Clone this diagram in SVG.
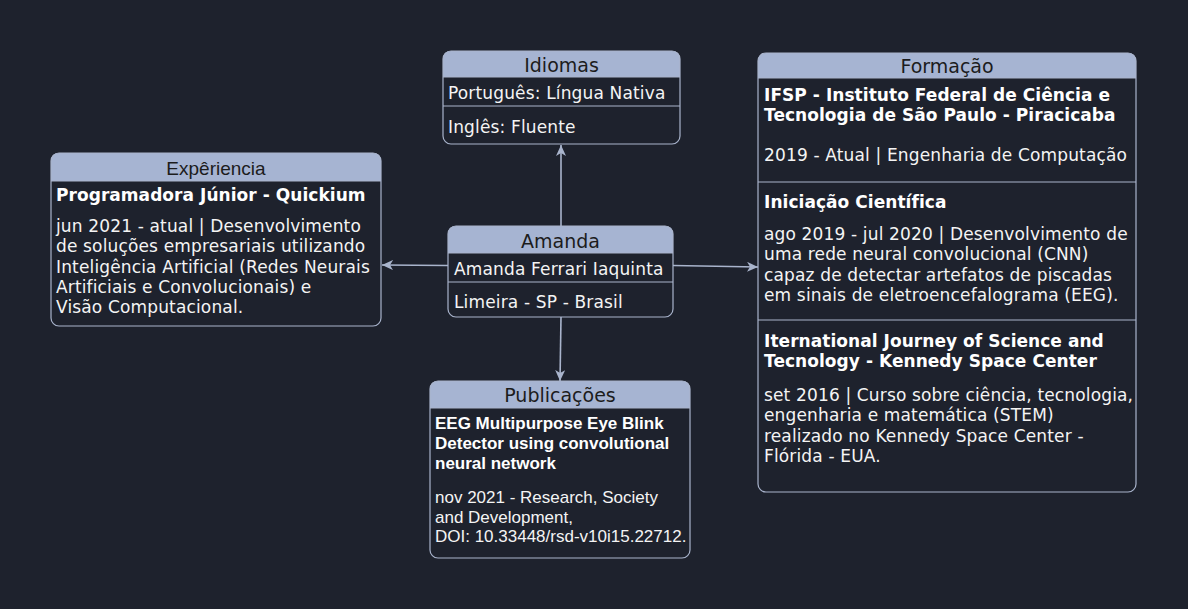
<svg xmlns="http://www.w3.org/2000/svg" width="1188" height="609" viewBox="0 0 1188 609">
<defs>
<style>
.hd{fill:#a6b4d2;stroke:none}
.bx{fill:none;stroke:#a9b4cc;stroke-width:1.2}
.dv{stroke:#a9b4cc;stroke-width:1.2}
.tt{font-family:"DejaVu Sans",Verdana,sans-serif;font-size:19px;fill:#1c1c1c;text-anchor:middle}
.tta{font-family:"Liberation Sans",Arial,sans-serif;font-size:19px;fill:#1c1c1c;text-anchor:middle}
.b{font-family:"DejaVu Sans",Verdana,sans-serif;font-size:17px;letter-spacing:0.15px;fill:#f4f4f4}
.bb{font-family:"DejaVu Sans",Verdana,sans-serif;font-size:17px;letter-spacing:0.05px;font-weight:bold;fill:#ffffff}
.a{font-family:"Liberation Sans",Arial,sans-serif;font-size:17px;fill:#f4f4f4}
.ab{font-family:"Liberation Sans",Arial,sans-serif;font-size:17px;font-weight:bold;fill:#ffffff}
.cn{stroke:#a9b4cc;stroke-width:1.6;fill:none;marker-end:url(#arr)}
</style>
<marker id="arr" markerUnits="userSpaceOnUse" markerWidth="14" markerHeight="12" refX="11" refY="5" orient="auto">
<path d="M0,0 L11,5 L0,10 L3,5 Z" fill="#a9b4cc"/>
</marker>
</defs>
<rect width="1188" height="609" fill="#1e222d"/>

<g id="connectors">
<line class="cn" x1="561" y1="226" x2="561" y2="145"/>
<line class="cn" x1="448" y1="265.5" x2="382" y2="265"/>
<line class="cn" x1="673" y1="265.5" x2="758" y2="267"/>
<line class="cn" x1="561" y1="317" x2="560" y2="381"/>
</g>

<g id="idiomas">
<path class="hd" d="M443,77 V59 Q443,51 451,51 H672 Q680,51 680,59 V77 Z"/>
<rect class="bx" x="443" y="51" width="237" height="93" rx="8"/>
<line class="dv" x1="443" y1="77" x2="680" y2="77"/>
<line class="dv" x1="443" y1="106" x2="680" y2="106"/>
<text class="tt" x="561.5" y="72">Idiomas</text>
<text class="b" x="448" y="99">Português: Língua Nativa</text>
<text class="b" x="448" y="133">Inglês: Fluente</text>
</g>

<g id="experiencia">
<path class="hd" d="M51,181 V161 Q51,153 59,153 H373 Q381,153 381,161 V181 Z"/>
<rect class="bx" x="51" y="153" width="330" height="173" rx="8"/>
<line class="dv" x1="51" y1="181" x2="381" y2="181"/>
<text class="tta" x="216" y="175">Expêriencia</text>
<text class="bb" x="56" y="201">Programadora Júnior - Quickium</text>
<text class="b" x="56" y="232">jun 2021 - atual | Desenvolvimento</text>
<text class="b" x="56" y="252.3">de soluções empresariais utilizando</text>
<text class="b" x="56" y="272.6">Inteligência Artificial (Redes Neurais</text>
<text class="b" x="56" y="292.9">Artificiais e Convolucionais) e</text>
<text class="b" x="56" y="313.2">Visão Computacional.</text>
</g>

<g id="amanda">
<path class="hd" d="M448,253 V234 Q448,226 456,226 H665 Q673,226 673,234 V253 Z"/>
<rect class="bx" x="448" y="226" width="225" height="91" rx="8"/>
<line class="dv" x1="448" y1="253" x2="673" y2="253"/>
<line class="dv" x1="448" y1="282" x2="673" y2="282"/>
<text class="tt" x="560.5" y="248">Amanda</text>
<text class="b" x="454" y="275">Amanda Ferrari Iaquinta</text>
<text class="b" x="454" y="308">Limeira - SP - Brasil</text>
</g>

<g id="publicacoes">
<path class="hd" d="M430,408 V389 Q430,381 438,381 H682 Q690,381 690,389 V408 Z"/>
<rect class="bx" x="430" y="381" width="260" height="177" rx="8"/>
<line class="dv" x1="430" y1="408" x2="690" y2="408"/>
<text class="tt" x="560" y="402">Publicações</text>
<text class="ab" x="435" y="429">EEG Multipurpose Eye Blink</text>
<text class="ab" x="435" y="449">Detector using convolutional</text>
<text class="ab" x="435" y="469">neural network</text>
<text class="a" x="435" y="503">nov 2021 - Research, Society</text>
<text class="a" x="435" y="522.5">and Development,</text>
<text class="a" x="435" y="542">DOI: 10.33448/rsd-v10i15.22712.</text>
</g>

<g id="formacao">
<path class="hd" d="M758,78 V61 Q758,53 766,53 H1128 Q1136,53 1136,61 V78 Z"/>
<rect class="bx" x="758" y="53" width="378" height="439" rx="8"/>
<line class="dv" x1="758" y1="78" x2="1136" y2="78"/>
<line class="dv" x1="758" y1="182" x2="1136" y2="182"/>
<line class="dv" x1="758" y1="320" x2="1136" y2="320"/>
<text class="tt" x="947" y="73">Formação</text>
<text class="bb" x="764" y="101">IFSP - Instituto Federal de Ciência e</text>
<text class="bb" x="764" y="121">Tecnologia de São Paulo - Piracicaba</text>
<text class="b" x="764" y="161">2019 - Atual | Engenharia de Computação</text>
<text class="bb" x="764" y="208">Iniciação Científica</text>
<text class="b" x="764" y="240">ago 2019 - jul 2020 | Desenvolvimento de</text>
<text class="b" x="764" y="260.3">uma rede neural convolucional (CNN)</text>
<text class="b" x="764" y="280.6">capaz de detectar artefatos de piscadas</text>
<text class="b" x="764" y="300.9">em sinais de eletroencefalograma (EEG).</text>
<text class="bb" x="764" y="347">Iternational Journey of Science and</text>
<text class="bb" x="764" y="367">Tecnology - Kennedy Space Center</text>
<text class="b" x="764" y="401">set 2016 | Curso sobre ciência, tecnologia,</text>
<text class="b" x="764" y="421.3">engenharia e matemática (STEM)</text>
<text class="b" x="764" y="441.6">realizado no Kennedy Space Center -</text>
<text class="b" x="764" y="461.9">Flórida - EUA.</text>
</g>
</svg>
